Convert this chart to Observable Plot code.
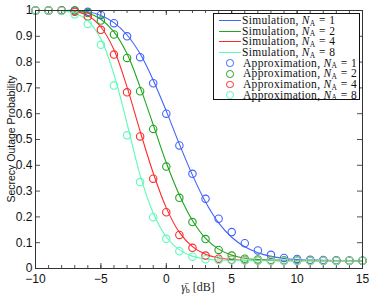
<!DOCTYPE html>
<html>
<head>
<meta charset="utf-8">
<script src="https://cdn.jsdelivr.net/npm/d3@7"></script>
<script src="https://cdn.jsdelivr.net/npm/@observablehq/plot@0.6"></script>
<style>
  body { margin: 0; background: #fff; }
  #wrap { position: relative; width: 374px; height: 298px; overflow: hidden; }
  #legend { position: absolute; left: 213px; top: 13px; width: 147px; height: 87px;
    border: 1px solid #111; background: #fff; font-family: "Liberation Serif", "Times New Roman", serif;
    font-size: 11.5px; color: #111; box-sizing: border-box; padding-top: 1px; }
  .row { position: relative; height: 10.7px; line-height: 10.7px; white-space: nowrap; }
  .sw-line { position: absolute; left: 5px; top: 5px; width: 22px; height: 0; border-top: 1.2px solid; }
  .sw-dot { position: absolute; left: 12px; top: 1.6px; width: 7.5px; height: 7.5px; border: 1.2px solid; border-radius: 50%; box-sizing: border-box; }
  .txt { position: absolute; left: 28px; top: 0; letter-spacing: 0.3px; }
  .txt2 { left: 29px; }
  .it { font-style: italic; }
  .sub { font-size: 7.5px; position: relative; top: 1.5px; }
  .eq { margin: 0 3.5px; }
  #ylab { position: absolute; left: 11px; top: 139px; transform: translate(-50%, -50%) rotate(-90deg);
    font-family: "Liberation Sans", Arial, sans-serif; font-size: 10.5px; white-space: nowrap; color: #111; }
  #xlab { position: absolute; left: 198px; top: 287px; transform: translate(-50%, -50%);
    font-family: "Liberation Serif", "Times New Roman", serif; font-size: 12px; white-space: nowrap; color: #222; }
  #xlab .sub { font-size: 8px; top: 2px; }
</style>
</head>
<body>
<div id="wrap"></div>
<script>
// ---- data ----
const snrDb = [-10,-9,-8,-7,-6,-5,-4,-3,-2,-1,0,1,2,3,4,5,6,7,8,9,10,11,12,13,14,15];

const simN1 = [1,1,1,1,0.995,0.981,0.953,0.905,0.832,0.73,0.61,0.482,0.362,0.258,0.177,0.121,0.084,0.061,0.047,0.039,0.035,0.033,0.032,0.031,0.031,0.03];
const simN2 = [1,1,1,0.998,0.99,0.966,0.917,0.832,0.703,0.557,0.41,0.285,0.186,0.117,0.075,0.052,0.04,0.035,0.033,0.032,0.031,0.031,0.03,0.03,0.03,0.03];
const simN4 = [1,1,1,0.996,0.981,0.936,0.848,0.703,0.532,0.37,0.235,0.14,0.085,0.055,0.041,0.035,0.032,0.031,0.031,0.03,0.03,0.03,0.03,0.03,0.03,0.03];
const simN8 = [1,1,0.999,0.99,0.96,0.89,0.752,0.562,0.362,0.215,0.122,0.072,0.048,0.037,0.033,0.031,0.031,0.03,0.03,0.03,0.03,0.03,0.03,0.03,0.03,0.03];

const apxN1 = [1,1,1,1,0.995,0.983,0.951,0.9,0.819,0.718,0.6,0.477,0.367,0.27,0.193,0.141,0.098,0.07,0.053,0.041,0.037,0.034,0.033,0.032,0.031,0.03];
const apxN2 = [1,1,1,1,0.99,0.961,0.907,0.816,0.687,0.541,0.395,0.274,0.18,0.114,0.072,0.05,0.038,0.035,0.033,0.032,0.031,0.031,0.03,0.03,0.03,0.03];
const apxN4 = [1,1,1,0.995,0.977,0.925,0.829,0.683,0.512,0.348,0.218,0.13,0.08,0.05,0.038,0.034,0.032,0.031,0.031,0.03,0.03,0.03,0.03,0.03,0.03,0.03];
const apxN8 = [1,1,0.998,0.985,0.948,0.867,0.709,0.516,0.335,0.199,0.115,0.067,0.046,0.036,0.033,0.032,0.031,0.031,0.03,0.03,0.03,0.03,0.03,0.03,0.03,0.03];

const seriesLabels = ["1", "2", "4", "8"];
const seriesColors = ["#4062ff", "#1fa51f", "#ff2a2a", "#5dfbb8"];

const xMajorTicks = [-10, -5, 0, 5, 10, 15];
const xMinorTicks = [-10,-9,-8,-7,-6,-5,-4,-3,-2,-1,0,1,2,3,4,5,6,7,8,9,10,11,12,13,14,15];
const yTicks = [0, 0.1, 0.2, 0.3, 0.4, 0.5, 0.6, 0.7, 0.8, 0.9, 1];

// ---- build ----
const W = 374, H = 298;
const mL = 35, mR = 12, mT = 10, mB = 30;
const innerW = W - mL - mR, innerH = H - mT - mB;

const sims = [simN1, simN2, simN4, simN8];
const apxs = [apxN1, apxN2, apxN4, apxN8];
const toRows = arr => snrDb.map((x, i) => ({x, y: arr[i]}));

const marks = [];
// inward ticks on all four sides
marks.push(Plot.tickX(xMinorTicks, {x: d => d, insetTop: innerH - 3, stroke: "#222", strokeWidth: 0.8}));
marks.push(Plot.tickX(xMinorTicks, {x: d => d, insetBottom: innerH - 3, stroke: "#222", strokeWidth: 0.8}));
marks.push(Plot.tickX(xMajorTicks, {x: d => d, insetTop: innerH - 5, stroke: "#222", strokeWidth: 0.8}));
marks.push(Plot.tickX(xMajorTicks, {x: d => d, insetBottom: innerH - 5, stroke: "#222", strokeWidth: 0.8}));
marks.push(Plot.tickY(yTicks, {y: d => d, insetRight: innerW - 5, stroke: "#222", strokeWidth: 0.8}));
marks.push(Plot.tickY(yTicks, {y: d => d, insetLeft: innerW - 5, stroke: "#222", strokeWidth: 0.8}));

sims.forEach((s, i) => {
  marks.push(Plot.line(toRows(s), {x: "x", y: "y", stroke: seriesColors[i], strokeWidth: 1.1, curve: "catmull-rom"}));
});
apxs.forEach((s, i) => {
  marks.push(Plot.dot(toRows(s), {x: "x", y: "y", r: 3.7, stroke: seriesColors[i], strokeWidth: 1.1, fill: "none"}));
});
marks.push(Plot.frame({stroke: "#333", strokeWidth: 1}));
marks.push(Plot.axisX(xMajorTicks, {anchor: "bottom", tickSize: 0, tickPadding: 6, label: null,
  fontSize: 12, fill: "#111"}));
marks.push(Plot.axisY(yTicks, {anchor: "left", tickSize: 0, tickPadding: 3, label: null,
  tickFormat: d => (d === 0 || d === 1) ? String(d) : d.toFixed(1), fontSize: 12, fill: "#111"}));

const chart = Plot.plot({
  width: W, height: H,
  marginLeft: mL, marginRight: mR, marginTop: mT, marginBottom: mB,
  style: {fontFamily: "'Liberation Sans', Arial, sans-serif", fontSize: "12px", background: "#fff", color: "#111"},
  x: {domain: [-10, 15], label: null},
  y: {domain: [0, 1], label: null},
  marks
});

const wrap = document.getElementById("wrap");
wrap.appendChild(chart);

// legend
const legend = document.createElement("div");
legend.id = "legend";
let html = "";
seriesLabels.forEach((n, i) => {
  html += `<div class="row"><span class="sw-line" style="border-color:${seriesColors[i]}"></span><span class="txt">Simulation, <span class="it">N</span><span class="sub">A</span><span class="eq">=</span>${n}</span></div>`;
});
seriesLabels.forEach((n, i) => {
  html += `<div class="row"><span class="sw-dot" style="border-color:${seriesColors[i]}"></span><span class="txt txt2">Approximation, <span class="it">N</span><span class="sub">A</span><span class="eq">=</span>${n}</span></div>`;
});
legend.innerHTML = html;
wrap.appendChild(legend);

const ylab = document.createElement("div");
ylab.id = "ylab";
ylab.textContent = "Secrecy Outage Probability";
wrap.appendChild(ylab);

const xlab = document.createElement("div");
xlab.id = "xlab";
xlab.innerHTML = `<span class="it">γ̄</span><span class="sub">b</span> [dB]`;
wrap.appendChild(xlab);
</script>
</body>
</html>
